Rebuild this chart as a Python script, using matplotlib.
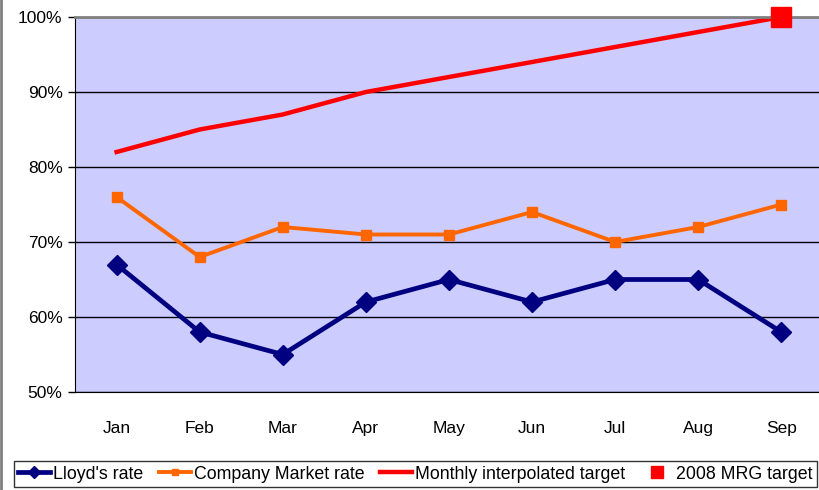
import numpy as np
import matplotlib.pyplot as plt

plt.rcParams['font.family'] = ['Liberation Sans', 'DejaVu Sans']

months = ['Jan', 'Feb', 'Mar', 'Apr', 'May', 'Jun', 'Jul', 'Aug', 'Sep']
lloyds = [67, 58, 55, 62, 65, 62, 65, 65, 58]
company = [76, 68, 72, 71, 71, 74, 70, 72, 75]
target = [82, 85, 87, 90, 92, 94, 96, 98, 100]
mrg_month = 'Sep'
mrg_value = 100

fig = plt.figure(figsize=(8.2, 4.9), dpi=100)
ax = fig.add_axes([0.0915, 0.2, 0.912, 0.7653])
ax.set_facecolor('#ccccff')

x = np.arange(len(months))
ax.plot(x, lloyds, color='#000080', lw=3.4, marker='D', ms=10, label="Lloyd's rate")
ax.plot(x, company, color='#ff6600', lw=2.8, marker='s', ms=7.5, label='Company Market rate')
ax.plot(x, target, color='#ff0000', lw=3.2, label='Monthly interpolated target')
ax.plot([months.index(mrg_month)], [mrg_value], ls='none', marker='s', ms=14,
        color='#ff0000', label='2008 MRG target', clip_on=False, zorder=5)

ax.set_xlim(-0.5, len(months) - 0.5)
ax.set_ylim(50, 100)
ax.set_yticks(range(50, 101, 10))
ax.set_yticklabels([f'{v}%' for v in range(50, 101, 10)], fontsize=12.5)
ax.set_xticks(x)
ax.set_xticklabels(months, fontsize=12.5)
ax.tick_params(axis='x', length=0, pad=21)
ax.tick_params(axis='y', length=5, width=1, direction='out', pad=4)
ax.yaxis.grid(True, color='black', lw=1)
ax.set_axisbelow(True)
ax.spines['top'].set_color('#808080')
ax.spines['top'].set_linewidth(2)
ax.spines['right'].set_visible(False)
ax.spines['left'].set_color('black')
ax.spines['bottom'].set_color('black')

leg = fig.legend(loc='lower left', bbox_to_anchor=(0.006, -0.012), ncol=4,
                 fontsize=12.8, frameon=True, fancybox=False,
                 borderpad=0.25, handlelength=1.8, handletextpad=0.15, columnspacing=0.9,
                 markerscale=0.6)
leg.get_frame().set_edgecolor('black')
leg.get_frame().set_linewidth(1)

fig.add_artist(plt.Line2D([0.001, 0.001], [0, 1], color='#808080', lw=2, transform=fig.transFigure))

fig.savefig('out.png', dpi=100)
